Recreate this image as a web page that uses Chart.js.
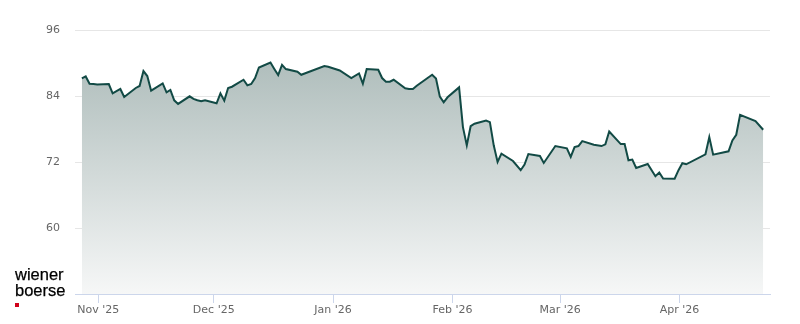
<!DOCTYPE html>
<html>
<head>
<meta charset="utf-8">
<script src="https://cdn.jsdelivr.net/npm/chart.js@4/dist/chart.umd.min.js"></script>
<style>
  html, body { margin: 0; padding: 0; background: #fff; }
  #wrap { position: relative; width: 800px; height: 324px; }
  #logo { position: absolute; left: 15px; top: 267px; font-family: "Liberation Sans", Arial, sans-serif;
          font-size: 16.5px; line-height: 15.5px; color: #000; -webkit-text-stroke: 0.25px #000; }
  #logo .dot { width: 4px; height: 4px; background: #d0021b; margin-top: 5px; }
</style>
</head>
<body>
<div id="wrap">
  <canvas id="chart" width="800" height="324"></canvas>
  <div id="logo">wiener<br>boerse<div class="dot"></div></div>
</div>
<script>
/* Kursverlauf — 6 Monate */

const dates = [
  "2025-10-27", "2025-10-28", "2025-10-29", "2025-10-30", "2025-10-31",
  "2025-11-03", "2025-11-04", "2025-11-05", "2025-11-06", "2025-11-07",
  "2025-11-10", "2025-11-11", "2025-11-12", "2025-11-13", "2025-11-14",
  "2025-11-17", "2025-11-18", "2025-11-19", "2025-11-20", "2025-11-21",
  "2025-11-24", "2025-11-25", "2025-11-26", "2025-11-27", "2025-11-28",
  "2025-12-01", "2025-12-02", "2025-12-03", "2025-12-04", "2025-12-05",
  "2025-12-08", "2025-12-09", "2025-12-10", "2025-12-11", "2025-12-12",
  "2025-12-15", "2025-12-16", "2025-12-17", "2025-12-18", "2025-12-19",
  "2025-12-22", "2025-12-23", "2025-12-29", "2025-12-30", "2026-01-02",
  "2026-01-05", "2026-01-07", "2026-01-08", "2026-01-09",
  "2026-01-12", "2026-01-13", "2026-01-14", "2026-01-15", "2026-01-16",
  "2026-01-19", "2026-01-20", "2026-01-21", "2026-01-22",
  "2026-01-26", "2026-01-27", "2026-01-28", "2026-01-29", "2026-01-30",
  "2026-02-02", "2026-02-03", "2026-02-04", "2026-02-05", "2026-02-06",
  "2026-02-09", "2026-02-10", "2026-02-11", "2026-02-12", "2026-02-13",
  "2026-02-16", "2026-02-18", "2026-02-19", "2026-02-20",
  "2026-02-23", "2026-02-24", "2026-02-27",
  "2026-03-02", "2026-03-03", "2026-03-04", "2026-03-05", "2026-03-06",
  "2026-03-09", "2026-03-11", "2026-03-12", "2026-03-13",
  "2026-03-16", "2026-03-17", "2026-03-18", "2026-03-19", "2026-03-20",
  "2026-03-23", "2026-03-25", "2026-03-26", "2026-03-27",
  "2026-03-30", "2026-03-31", "2026-04-01", "2026-04-02",
  "2026-04-07", "2026-04-08", "2026-04-09",
  "2026-04-13", "2026-04-14", "2026-04-15", "2026-04-16",
  "2026-04-20", "2026-04-22",
];

const prices = [
  87.27, 87.63, 86.31, 86.25, 86.18,
  86.25, 84.55, 84.95, 85.35, 83.90,
  85.53, 85.89, 88.61, 87.70, 85.04,
  86.36, 84.73, 85.17, 83.28, 82.63,
  84.01, 83.54, 83.30, 83.10, 83.28,
  82.74, 84.55, 83.23, 85.53, 85.76,
  87.03, 86.00, 86.25, 87.34, 89.26,
  90.17, 89.00, 87.88, 89.75, 88.97,
  88.48, 87.94, 89.51, 89.39, 88.72,
  87.34, 88.17, 86.31, 88.97,
  88.84, 87.34, 86.67, 86.67, 87.03,
  85.46, 85.35, 85.35, 85.95,
  87.94, 87.27, 83.95, 82.92, 83.83,
  85.64, 78.40, 75.08, 78.57, 79.01,
  79.61, 79.30, 75.08, 72.05, 73.57,
  72.23, 70.55, 71.58, 73.50,
  73.14, 71.87, 74.95,
  74.53, 72.96, 74.77, 74.95, 75.86,
  75.20, 74.95, 75.26, 77.61,
  75.31, 75.31, 72.36, 72.49, 70.96,
  71.69, 69.46, 70.13, 69.04,
  69.00, 70.55, 71.82, 71.63,
  73.45, 76.58, 73.39,
  73.99, 75.98, 77.01, 80.64,
  79.48, 77.92,
];

const monthTicks = ["2025-11-01", "2025-12-01", "2026-01-01", "2026-02-01", "2026-03-01", "2026-04-01"];
const monthLabels = ["Nov '25", "Dec '25", "Jan '26", "Feb '26", "Mar '26", "Apr '26"];
const yTicks = [60, 72, 84, 96];

const ORIGIN = Date.UTC(2025, 10, 1);
const CLOSE = 0.73; // Schlusskurs ~17:30
const dayNo = (s) => {
  const [y, m, d] = s.split("-").map(Number);
  return (Date.UTC(y, m - 1, d) - ORIGIN) / 86400000;
};

const points = dates.map((d, i) => ({ x: dayNo(d) + CLOSE, y: prices[i] }));
const tickDays = monthTicks.map(dayNo);

Chart.defaults.font.family = "'DejaVu Sans', sans-serif";
Chart.defaults.font.size = 11;
Chart.defaults.color = "#666666";

new Chart(document.getElementById("chart"), {
  type: "line",
  data: {
    datasets: [{
      data: points,
      borderColor: "#124a45",
      borderWidth: 2,
      pointRadius: 0,
      tension: 0,
      fill: "start",
      backgroundColor: (ctx) => {
        const area = ctx.chart.chartArea;
        if (!area) return "rgba(168,184,182,0.8)";
        const g = ctx.chart.ctx.createLinearGradient(0, area.top, 0, area.bottom);
        g.addColorStop(0, "rgb(166,182,180)");
        g.addColorStop(1, "rgb(246,247,247)");
        return g;
      },
    }],
  },
  options: {
    responsive: false,
    animation: false,
    devicePixelRatio: 1,
    layout: { padding: { top: 30.5, right: 30, bottom: 0, left: 0 } },
    plugins: { legend: { display: false }, tooltip: { enabled: false } },
    scales: {
      x: {
        type: "linear",
        min: -6.05,
        max: 174.5,
        afterFit: (s) => { s.height = 30; },
        afterBuildTicks: (s) => { s.ticks = tickDays.map((v) => ({ value: v })); },
        ticks: {
          autoSkip: false,
          maxRotation: 0,
          padding: 1,
          callback: (v) => monthLabels[tickDays.indexOf(v)] ?? "",
        },
        grid: { drawOnChartArea: false, drawTicks: true, tickLength: 9, color: "#ccd6eb" },
        border: { color: "#ccd6eb", width: 1 },
      },
      y: {
        min: 48,
        max: 96,
        afterFit: (s) => { s.width = 75; },
        afterBuildTicks: (s) => { s.ticks = yTicks.map((v) => ({ value: v })); },
        ticks: { padding: 15 },
        grid: { color: "#e6e6e6", drawTicks: false },
        border: { display: false },
      },
    },
  },
});
</script>
</body>
</html>
